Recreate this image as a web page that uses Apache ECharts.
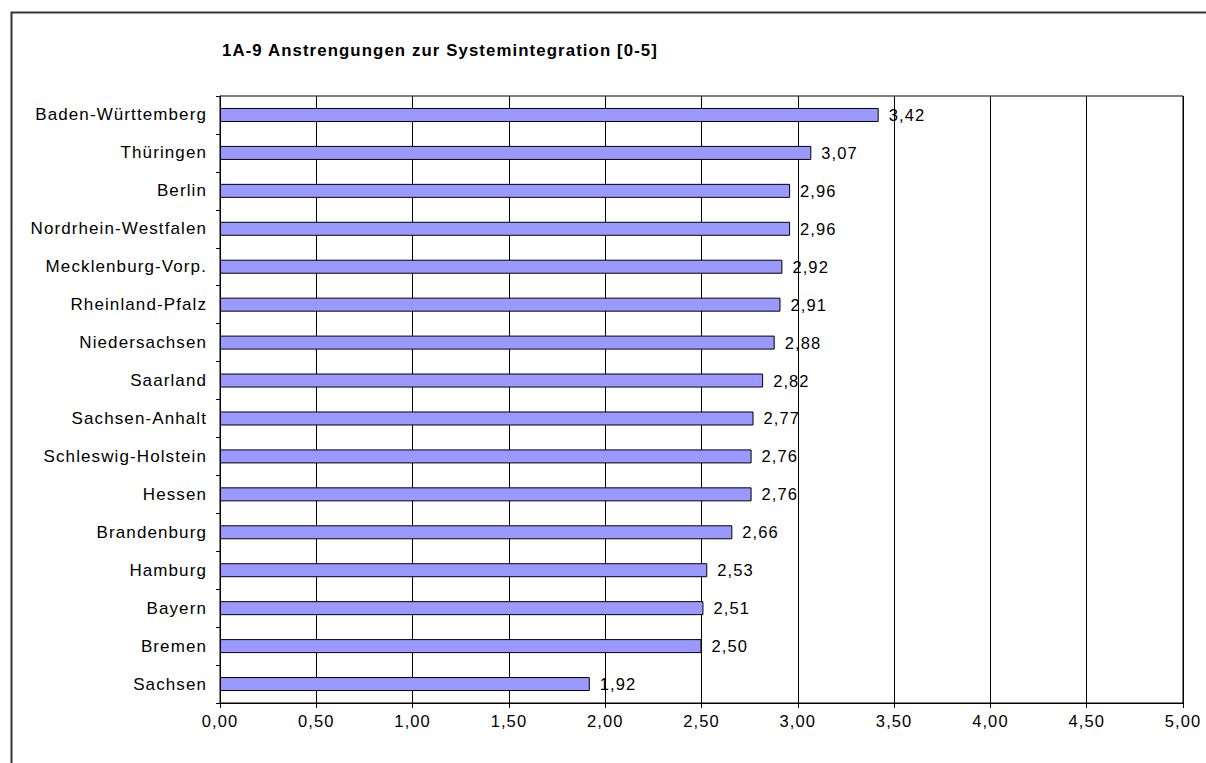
<!DOCTYPE html>
<html>
<head>
<meta charset="utf-8">
<script src="https://cdn.jsdelivr.net/npm/echarts@6/dist/echarts.min.js"></script>
<style>
  html, body { margin: 0; padding: 0; background: #fff; }
  #chart { width: 1206px; height: 763px; }
  #chart svg text { letter-spacing: 1.1px; }
</style>
</head>
<body>
<div id="chart"></div>
<script>
const titleText = '1A-9 Anstrengungen zur Systemintegration [0-5]';
const categories = [
  'Baden-Württemberg', 'Thüringen', 'Berlin', 'Nordrhein-Westfalen',
  'Mecklenburg-Vorp.', 'Rheinland-Pfalz', 'Niedersachsen', 'Saarland',
  'Sachsen-Anhalt', 'Schleswig-Holstein', 'Hessen', 'Brandenburg',
  'Hamburg', 'Bayern', 'Bremen', 'Sachsen'
];
const values = [3.42, 3.07, 2.96, 2.96, 2.92, 2.91, 2.88, 2.82, 2.77, 2.76, 2.76, 2.66, 2.53, 2.51, 2.50, 1.92];
const axisMin = 0, axisMax = 5, axisStep = 0.5;

const fmt = v => Number(v).toFixed(2).replace('.', ',');
const FONT = '"Liberation Sans", Arial, sans-serif';

const chart = echarts.init(document.getElementById('chart'), null, { renderer: 'svg' });
chart.setOption({
  animation: false,
  backgroundColor: '#fff',
  textStyle: { fontFamily: FONT, color: '#000' },
  title: {
    text: titleText,
    left: 217, top: 37,
    textStyle: { fontFamily: FONT, fontWeight: 'bold', fontSize: 16.8, color: '#000' }
  },
  graphic: [{
    type: 'rect',
    shape: { x: 11.5, y: 12.5, width: 1210, height: 770 },
    style: { fill: 'none', stroke: '#333', lineWidth: 2 },
    silent: true, z: 100
  }],
  grid: {
    left: 220, right: 23, top: 96, bottom: 60,
    show: true, borderColor: '#000', borderWidth: 1, backgroundColor: 'transparent'
  },
  xAxis: {
    type: 'value', min: axisMin, max: axisMax, interval: axisStep,
    axisLine: { show: true, lineStyle: { color: '#000', width: 1 } },
    axisTick: { show: true, length: 5, lineStyle: { color: '#000' } },
    axisLabel: { formatter: fmt, color: '#000', fontSize: 16.5, margin: 9, fontFamily: FONT },
    splitLine: { show: true, lineStyle: { color: '#000', width: 1 } }
  },
  yAxis: {
    type: 'category', data: categories, inverse: true,
    axisLine: { show: true, lineStyle: { color: '#000', width: 1 } },
    axisTick: { show: true, length: 4, lineStyle: { color: '#000' } },
    axisLabel: { color: '#000', fontSize: 17, margin: 13, fontFamily: FONT },
    splitLine: { show: false }
  },
  series: [{
    type: 'bar',
    data: values,
    barWidth: 14,
    itemStyle: { color: '#9999FF', borderColor: '#000', borderWidth: 1 },
    label: {
      show: true, position: 'right', distance: 10,
      formatter: p => fmt(p.value),
      color: '#000', fontSize: 16.5, fontFamily: FONT
    }
  }]
});
</script>
</body>
</html>
